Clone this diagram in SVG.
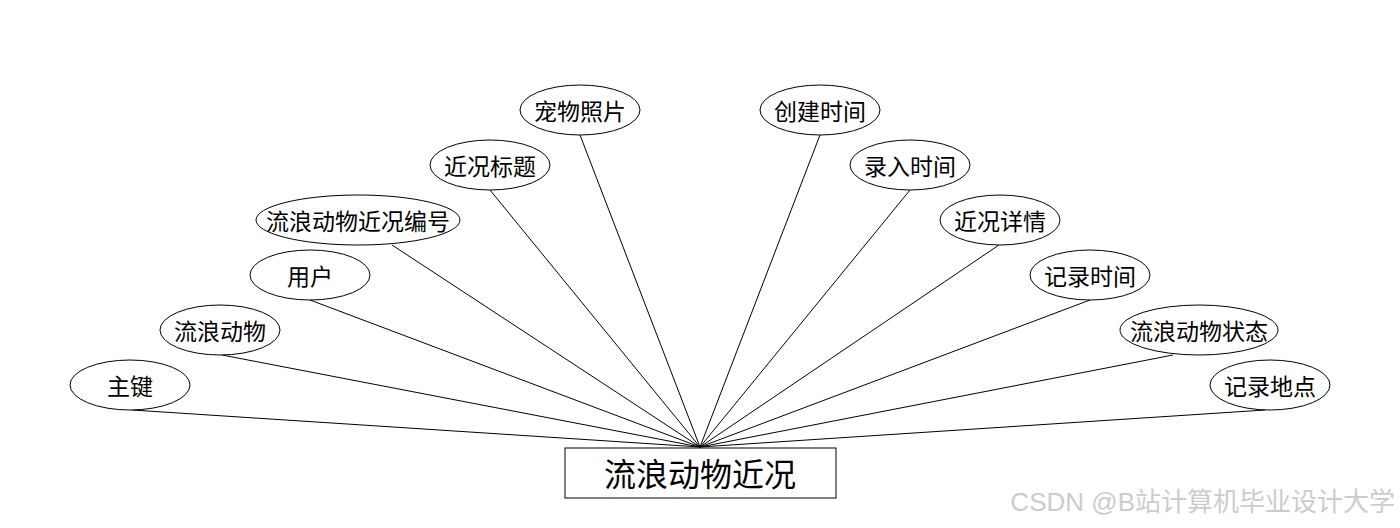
<svg xmlns="http://www.w3.org/2000/svg" width="1400" height="528" viewBox="0 0 1400 528">
<style>
.bg{fill:#ffffff}
.attr ellipse{fill:#ffffff;stroke:#000000;stroke-width:1}
.ent rect{fill:#ffffff;stroke:#000000;stroke-width:1}
.lbl{font-family:"Noto Sans CJK SC","Microsoft YaHei",sans-serif;font-size:23px;fill:#000000;text-anchor:middle;dominant-baseline:central}
.ent .lbl{font-size:32px}
#connectors line{stroke:#000000;stroke-width:1}
.wm{font-family:"Liberation Sans","Noto Sans CJK SC",sans-serif;font-size:26px;fill:#cccccc;text-anchor:end}
</style>
<rect class="bg" x="0" y="0" width="1400" height="528"/>
<g id="connectors">
<line x1="132" y1="410" x2="700" y2="447"/>
<line x1="222" y1="355" x2="700" y2="447"/>
<line x1="310" y1="300" x2="700" y2="447"/>
<line x1="392" y1="245" x2="700" y2="447"/>
<line x1="490" y1="190" x2="700" y2="447"/>
<line x1="580" y1="135" x2="700" y2="447"/>
<line x1="820" y1="135" x2="700" y2="447"/>
<line x1="910" y1="190" x2="700" y2="447"/>
<line x1="999" y1="245" x2="700" y2="447"/>
<line x1="1090" y1="300" x2="700" y2="447"/>
<line x1="1173" y1="355" x2="700" y2="447"/>
<line x1="1265" y1="410" x2="700" y2="447"/>
</g>
<g id="entity" class="ent">
<rect x="565" y="448" width="271" height="50"/>
<text class="lbl" x="700" y="472">流浪动物近况</text>
</g>
<g id="attr-zhujian" class="attr"><ellipse cx="130" cy="385" rx="60" ry="25"/><text class="lbl" x="130" y="385">主键</text></g>
<g id="attr-liulangdongwu" class="attr"><ellipse cx="220" cy="330" rx="60" ry="25"/><text class="lbl" x="220" y="330">流浪动物</text></g>
<g id="attr-yonghu" class="attr"><ellipse cx="310" cy="275" rx="60" ry="25"/><text class="lbl" x="310" y="275">用户</text></g>
<g id="attr-bianhao" class="attr"><ellipse cx="358" cy="220" rx="102" ry="25"/><text class="lbl" x="358" y="220">流浪动物近况编号</text></g>
<g id="attr-biaoti" class="attr"><ellipse cx="490" cy="165" rx="60" ry="25"/><text class="lbl" x="490" y="165">近况标题</text></g>
<g id="attr-zhaopian" class="attr"><ellipse cx="580" cy="110" rx="60" ry="25"/><text class="lbl" x="580" y="110">宠物照片</text></g>
<g id="attr-chuangjian" class="attr"><ellipse cx="820" cy="110" rx="60" ry="25"/><text class="lbl" x="820" y="110">创建时间</text></g>
<g id="attr-luru" class="attr"><ellipse cx="910" cy="165" rx="60" ry="25"/><text class="lbl" x="910" y="165">录入时间</text></g>
<g id="attr-xiangqing" class="attr"><ellipse cx="1000" cy="220" rx="60" ry="25"/><text class="lbl" x="1000" y="220">近况详情</text></g>
<g id="attr-jilushijian" class="attr"><ellipse cx="1090" cy="275" rx="60" ry="25"/><text class="lbl" x="1090" y="275">记录时间</text></g>
<g id="attr-zhuangtai" class="attr"><ellipse cx="1199" cy="330" rx="79" ry="25"/><text class="lbl" x="1199" y="330">流浪动物状态</text></g>
<g id="attr-didian" class="attr"><ellipse cx="1270" cy="385" rx="60" ry="25"/><text class="lbl" x="1270" y="385">记录地点</text></g>
<text class="wm" x="1395" y="511">CSDN @B站计算机毕业设计大学</text>
</svg>
